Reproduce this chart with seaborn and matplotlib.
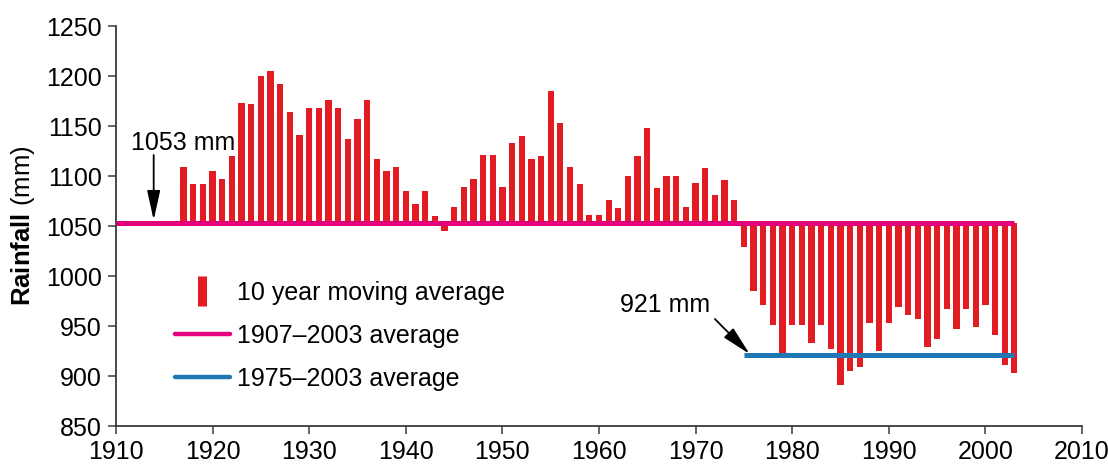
import numpy as np
import pandas as pd
import matplotlib
matplotlib.use("Agg")
import matplotlib.pyplot as plt
import seaborn as sns
from matplotlib.lines import Line2D

# 10 year moving average rainfall (mm), 1917-2003
years = list(range(1917, 2004))
rainfall = [
    1109, 1092, 1092, 1105, 1097, 1120, 1173, 1172, 1200, 1205,
    1192, 1164, 1141, 1168, 1168, 1176, 1168, 1137, 1157, 1176,
    1117, 1105, 1109, 1085, 1072, 1085, 1060, 1045, 1069, 1089,
    1097, 1121, 1121, 1089, 1133, 1140, 1117, 1120, 1185, 1153,
    1109, 1092, 1061, 1061, 1076, 1068, 1100, 1120, 1148, 1088,
    1100, 1100, 1069, 1093, 1108, 1081, 1096, 1076, 1029, 985,
    971, 951, 923, 951, 951, 933, 951, 927, 891, 905,
    909, 953, 925, 953, 969, 961, 957, 929, 937, 967,
    947, 967, 949, 971, 941, 911, 903,
]
long_avg = 1053          # 1907-2003 average
long_span = [1910, 2003]
recent_avg = 921         # 1975-2003 average
recent_span = [1975, 2003]

legend_labels = ["10 year moving average", "1907\u20132003 average", "1975\u20132003 average"]

bar_red = "#E31B23"
pink = "#E4007C"
blue = "#1F77B4"
axis_col = "#3a3a3a"

sns.set_style("white")
plt.rcParams["font.family"] = ["Liberation Sans", "DejaVu Sans"]
plt.rcParams["mathtext.fontset"] = "custom"
plt.rcParams["mathtext.rm"] = "Liberation Sans"
plt.rcParams["mathtext.bf"] = "Liberation Sans:bold"
plt.rcParams["text.color"] = "black"
plt.rcParams["axes.labelcolor"] = "black"

df = pd.DataFrame({"year": years, "rain": rainfall})

fig = plt.figure(figsize=(11.08, 4.66), dpi=100)
ax = fig.add_axes([0.1047, 0.0858, 0.8718, 0.8584])

ax.bar(df["year"], df["rain"] - long_avg, bottom=long_avg, width=0.65,
       color=bar_red, linewidth=0, zorder=2)

lines = pd.DataFrame({"x": long_span + recent_span,
                      "y": [long_avg] * 2 + [recent_avg] * 2,
                      "which": ["long"] * 2 + ["recent"] * 2})
sns.lineplot(data=lines, x="x", y="y", hue="which", palette=[pink, blue],
             linewidth=3.6, legend=False, ax=ax, zorder=3)
for ln in ax.lines:
    ln.set_solid_capstyle("butt")

ax.set_xlim(1910, 2010)
ax.set_ylim(850, 1250)
ax.set_xticks(range(1910, 2011, 10))
ax.set_yticks(range(850, 1251, 50))
ax.set_xlabel("")
ax.set_ylabel(r"$\mathbf{Rainfall}$ (mm)", fontsize=18.5, labelpad=6.5)

for s in ["top", "right"]:
    ax.spines[s].set_visible(False)
for s in ["left", "bottom"]:
    ax.spines[s].set_color(axis_col)
    ax.spines[s].set_linewidth(1.3)
ax.tick_params(axis="both", direction="out", length=6, width=1.1,
               color=axis_col, labelcolor="black", labelsize=18, pad=4,
               left=True, bottom=True)

# annotations
arrow = dict(arrowstyle="-|>,head_length=0.9,head_width=0.2",
             color="black", lw=1.3, mutation_scale=20, shrinkA=0, shrinkB=0)
ax.text(1917.0, 1133, "1053 mm", fontsize=18, ha="center", va="center")
ax.annotate("", xy=(1913.9, 1056), xytext=(1913.9, 1121), arrowprops=arrow)
ax.text(1966.8, 971, "921 mm", fontsize=18, ha="center", va="center")
ax.annotate("", xy=(1975.6, 922), xytext=(1972.0, 957), arrowprops=arrow)

handles = [
    Line2D([0], [0], color=bar_red, marker="|", linestyle="none",
           markersize=21, markeredgewidth=6.5),
    Line2D([0], [0], color=pink, lw=3.2),
    Line2D([0], [0], color=blue, lw=3.2),
]
ax.legend(handles, legend_labels, loc="upper left",
          bbox_to_anchor=(0.061, 0.362), frameon=False, fontsize=18,
          handlelength=2.2, handletextpad=0.3, labelspacing=0.76,
          borderpad=0, borderaxespad=0)

fig.savefig("out.png", dpi=100)
